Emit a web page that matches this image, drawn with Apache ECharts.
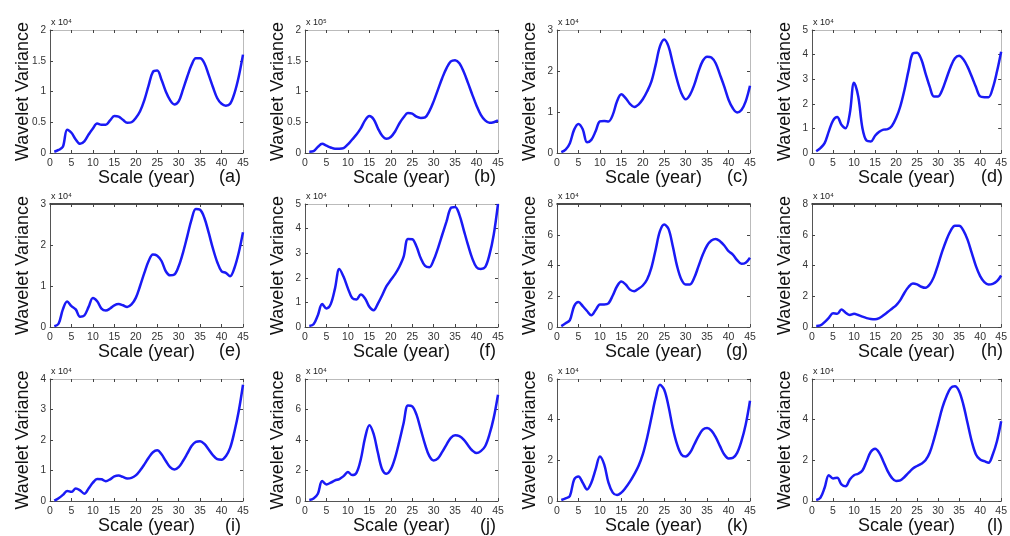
<!DOCTYPE html>
<html><head><meta charset="utf-8">
<script src="https://cdn.jsdelivr.net/npm/echarts@6/dist/echarts.min.js"></script>
<style>html,body{margin:0;padding:0;background:#fff}#c{width:1010px;height:536px}</style>
</head><body><div id="c"></div><script>
// ---- data ----
const years = [1,2,3,4,5,6,7,8,9,10,11,12,13,14,15,16,17,18,19,20,21,22,23,24,25,26,27,28,29,30,31,32,33,34,35,36,37,38,39,40,41,42,43,44,45];
const panelLabels = ['(a)','(b)','(c)','(d)','(e)','(f)','(g)','(h)','(i)','(j)','(k)','(l)'];
const exponents = ['⁴','⁵','⁴','⁴','⁴','⁴','⁴','⁴','⁴','⁴','⁴','⁴'];
const yMax = [2,2,3,5,3,5,8,8,4,8,6,6];
const yInterval = [0.5,0.5,1,1,1,1,2,2,1,2,2,2];
const xMin = 0, xMax = 45, xInterval = 5;
const xName = 'Scale (year)';
const yName = 'Wavelet Variance';

const va = [0.02,0.05,0.1,0.38,0.33,0.22,0.15,0.19,0.3,0.4,0.48,0.46,0.46,0.53,0.6,0.59,0.54,0.49,0.5,0.57,0.68,0.86,1.1,1.32,1.34,1.19,1.0,0.86,0.79,0.84,1.03,1.24,1.43,1.54,1.54,1.46,1.27,1.07,0.89,0.8,0.77,0.8,0.97,1.24,1.6];
const vb = [0.02,0.03,0.1,0.15,0.12,0.09,0.07,0.07,0.08,0.14,0.22,0.3,0.4,0.53,0.6,0.55,0.4,0.28,0.23,0.26,0.35,0.48,0.58,0.65,0.64,0.59,0.57,0.58,0.68,0.84,1.03,1.22,1.38,1.49,1.51,1.46,1.32,1.14,0.95,0.77,0.62,0.53,0.49,0.5,0.53];
const vc = [0.02,0.08,0.24,0.57,0.71,0.58,0.26,0.32,0.53,0.77,0.78,0.77,0.93,1.26,1.43,1.34,1.2,1.12,1.18,1.31,1.5,1.74,2.15,2.6,2.77,2.6,2.19,1.78,1.46,1.31,1.42,1.66,1.99,2.25,2.35,2.33,2.19,1.91,1.62,1.3,1.09,0.99,1.05,1.26,1.64];
const vd = [0.07,0.2,0.4,0.88,1.32,1.46,1.15,1.01,1.62,2.86,2.3,1.01,0.5,0.47,0.7,0.86,0.95,0.97,1.1,1.42,1.89,2.57,3.38,4.05,4.08,3.81,3.24,2.7,2.3,2.3,2.57,3.04,3.51,3.85,3.95,3.81,3.51,3.11,2.68,2.3,2.27,2.27,2.64,3.31,4.12];
const ve = [0.02,0.08,0.43,0.62,0.51,0.43,0.25,0.28,0.49,0.71,0.63,0.45,0.4,0.45,0.53,0.56,0.53,0.49,0.55,0.71,1.0,1.32,1.61,1.77,1.74,1.61,1.36,1.26,1.28,1.48,1.81,2.21,2.62,2.88,2.86,2.66,2.3,1.91,1.58,1.36,1.32,1.24,1.44,1.81,2.31];
const vf = [0.04,0.11,0.48,0.93,0.75,0.93,1.57,2.36,2.04,1.57,1.18,1.12,1.32,1.16,0.82,0.68,0.95,1.29,1.66,1.91,2.15,2.45,2.86,3.58,3.57,3.27,2.79,2.48,2.43,2.72,3.2,3.75,4.29,4.84,4.88,4.56,3.95,3.34,2.79,2.43,2.36,2.43,2.93,3.75,5.0];
const vg = [0.06,0.24,0.45,1.36,1.62,1.36,1.04,0.76,1.1,1.47,1.47,1.54,2.05,2.65,2.96,2.77,2.43,2.33,2.49,2.7,3.09,3.84,5.03,6.23,6.66,6.38,5.25,3.96,3.09,2.77,2.77,3.2,3.96,4.71,5.3,5.62,5.73,5.58,5.3,4.93,4.71,4.35,4.11,4.18,4.5];
const vh = [0.06,0.1,0.32,0.6,0.89,0.86,1.14,0.93,0.78,0.86,0.78,0.67,0.58,0.52,0.5,0.58,0.76,0.97,1.19,1.41,1.75,2.23,2.62,2.83,2.77,2.62,2.55,2.77,3.26,4.06,4.93,5.68,6.27,6.59,6.59,6.29,5.68,4.82,3.96,3.31,2.92,2.77,2.81,2.98,3.35];
const vi = [0.01,0.09,0.2,0.33,0.3,0.41,0.35,0.24,0.41,0.6,0.72,0.71,0.65,0.71,0.81,0.84,0.79,0.74,0.76,0.84,1.0,1.2,1.42,1.6,1.66,1.53,1.31,1.11,1.03,1.11,1.31,1.55,1.8,1.94,1.96,1.87,1.69,1.5,1.37,1.35,1.47,1.74,2.27,2.94,3.81];
const vj = [0.07,0.17,0.48,1.31,1.09,1.2,1.35,1.44,1.63,1.9,1.7,1.85,2.72,4.14,4.97,4.4,3.16,2.07,1.79,2.07,2.83,3.92,5.12,6.27,6.21,5.66,4.68,3.7,2.94,2.66,2.79,3.22,3.7,4.14,4.31,4.25,4.03,3.66,3.31,3.14,3.27,3.59,4.36,5.45,6.97];
const vk = [0.05,0.13,0.25,1.06,1.21,0.9,0.57,0.9,1.55,2.19,1.8,0.9,0.41,0.29,0.41,0.65,0.95,1.31,1.72,2.29,3.1,4.08,5.07,5.72,5.47,4.66,3.59,2.78,2.29,2.19,2.37,2.78,3.19,3.51,3.59,3.46,3.14,2.7,2.29,2.09,2.12,2.37,2.94,3.76,4.93];
const vl = [0.05,0.16,0.65,1.27,1.11,1.14,0.82,0.72,1.06,1.27,1.34,1.5,1.96,2.42,2.57,2.37,1.93,1.47,1.14,0.98,1.01,1.18,1.39,1.6,1.72,1.83,2.0,2.37,3.02,3.79,4.58,5.15,5.56,5.64,5.4,4.74,3.84,2.94,2.29,2.04,1.96,1.88,2.29,2.94,3.92];
const seriesValues = [va,vb,vc,vd,ve,vf,vg,vh,vi,vj,vk,vl];

// ---- layout / style ----
const colLeft = [50, 305, 557, 812];
const rowTop = [30, 204, 379];
const W = 193, H = 123;
const FONT = "'Liberation Sans', Arial, sans-serif";
const topLineColor = ['#bbb','#bbb','#bbb','#bbb','#111','#bbb','#111','#111','#bbb','#bbb','#bbb','#bbb'];

const grids = [], xAxes = [], yAxes = [], series = [], graphics = [];
seriesValues.forEach((vals, i) => {
  const r = Math.floor(i / 4), c = i % 4;
  const left = colLeft[c], top = rowTop[r];
  grids.push({left: left, top: top, width: W, height: H, show: false});
  const tick = {show: true, inside: true, length: 3, lineStyle: {color: '#444'}};
  xAxes.push({
    gridIndex: i, type: 'value', min: xMin, max: xMax, interval: xInterval,
    axisLine: {show: true, onZero: false, lineStyle: {color: '#555', width: 1}},
    axisTick: tick, splitLine: {show: false},
    axisLabel: {fontSize: 10.5, color: '#333', margin: 5, fontFamily: FONT},
    name: xName, nameLocation: 'middle', nameGap: 16, nameMoveOverlap: false,
    nameTextStyle: {fontSize: 18, color: '#111', fontFamily: FONT}
  });
  xAxes.push({
    gridIndex: i, type: 'value', position: 'top', min: xMin, max: xMax, interval: xInterval,
    axisLine: {show: true, onZero: false, lineStyle: {color: topLineColor[i], width: topLineColor[i] === '#111' ? 1.5 : 1}},
    axisTick: tick, axisLabel: {show: false}, splitLine: {show: false}
  });
  yAxes.push({
    gridIndex: i, type: 'value', min: 0, max: yMax[i], interval: yInterval[i],
    axisLine: {show: true, onZero: false, lineStyle: {color: '#555', width: 1}},
    axisTick: tick, splitLine: {show: false},
    axisLabel: {fontSize: 10, color: '#333', margin: 4, fontFamily: FONT},
    name: yName, nameLocation: 'middle', nameRotate: 90, nameGap: 18, nameMoveOverlap: false,
    nameTextStyle: {fontSize: 18, color: '#111', fontFamily: FONT}
  });
  yAxes.push({
    gridIndex: i, type: 'value', position: 'right', min: 0, max: yMax[i], interval: yInterval[i],
    axisLine: {show: true, onZero: false, lineStyle: {color: '#bbb', width: 1}},
    axisTick: tick, axisLabel: {show: false}, splitLine: {show: false}
  });
  series.push({
    type: 'line', xAxisIndex: 2 * i, yAxisIndex: 2 * i,
    data: years.map((x, j) => [x, vals[j]]),
    smooth: 0.35, showSymbol: false, symbol: 'none',
    lineStyle: {color: '#1a1af5', width: 2.5}, z: 5
  });
  graphics.push({
    type: 'text', x: left + W - 2, y: top + H + 24,
    style: {text: panelLabels[i], font: '18px ' + FONT, fill: '#111', textAlign: 'right', textVerticalAlign: 'middle'}
  });
  graphics.push({
    type: 'text', x: left + 1, y: top - 7,
    style: {text: 'x 10' + exponents[i], font: '9px ' + FONT, fill: '#222', textAlign: 'left', textVerticalAlign: 'middle'}
  });
});

const chart = echarts.init(document.getElementById('c'), null, {renderer: 'canvas'});
chart.setOption({
  animation: false,
  backgroundColor: '#fff',
  grid: grids, xAxis: xAxes, yAxis: yAxes, series: series, graphic: graphics
});
</script></body></html>
